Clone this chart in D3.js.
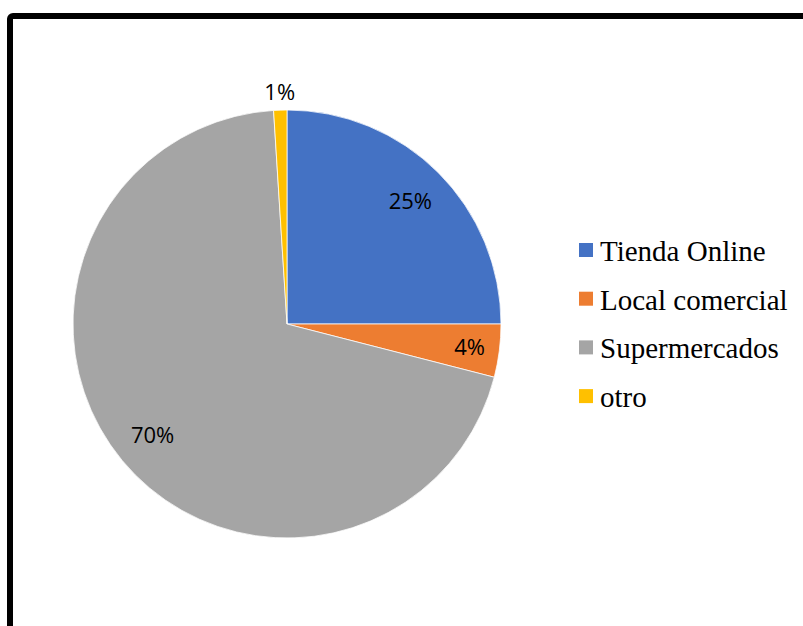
<!DOCTYPE html>
<html>
<head>
<meta charset="utf-8">
<script src="https://cdn.jsdelivr.net/npm/d3@7"></script>
<style>
  html, body { margin: 0; padding: 0; background: #ffffff; }
  svg { display: block; }
</style>
</head>
<body>
<svg id="chart" width="803" height="626"></svg>
<script>
// Purchase channel shares (percent)
const categories = ["Tienda Online", "Local comercial", "Supermercados", "otro"];
const values = [25, 4, 70, 1];
const valueLabels = ["25%", "4%", "70%", "1%"];
const colors = ["#4472C4", "#ED7D31", "#A5A5A5", "#FFC000"];

const svg = d3.select("#chart");
const W = 803, H = 626;

// Outer frame (continues past the right and bottom edges)
svg.append("rect")
  .attr("x", 10).attr("y", 16)
  .attr("width", W + 40).attr("height", H + 40)
  .attr("rx", 3)
  .attr("fill", "none")
  .attr("stroke", "#000")
  .attr("stroke-width", 6);

const cx = 287, cy = 324, r = 214;

const pie = d3.pie().sort(null).value(d => d.value);
const data = categories.map((c, i) => ({ name: c, value: values[i], label: valueLabels[i], color: colors[i] }));
const arcs = pie(data);

const arc = d3.arc().innerRadius(0).outerRadius(r);

const g = svg.append("g").attr("transform", `translate(${cx},${cy})`);

g.selectAll("path.slice")
  .data(arcs)
  .join("path")
  .attr("class", "slice")
  .attr("d", arc)
  .attr("fill", d => d.data.color)
  .attr("stroke", "#ffffff")
  .attr("stroke-width", 0.75);

// Data labels: wide slices inside, narrow ones pushed outward, tiny ones outside
function labelRadius(v) {
  if (v < 2) return r + 18;
  if (v < 10) return r * 0.86;
  return r * 0.815;
}
g.selectAll("text.val")
  .data(arcs)
  .join("text")
  .attr("class", "val")
  .attr("x", d => {
    const a = (d.startAngle + d.endAngle) / 2;
    return Math.sin(a) * labelRadius(d.data.value);
  })
  .attr("y", d => {
    const a = (d.startAngle + d.endAngle) / 2;
    return -Math.cos(a) * labelRadius(d.data.value);
  })
  .attr("text-anchor", "middle")
  .attr("dy", "0.36em")
  .attr("font-family", "'Open Sans', 'Liberation Sans', sans-serif")
  .attr("font-size", 22)
  .attr("fill", "#000")
  .text(d => d.data.label);

// Legend
const legend = svg.append("g").attr("transform", "translate(579,250)");
const rowStep = 48.7;
const rows = legend.selectAll("g.row")
  .data(data)
  .join("g")
  .attr("class", "row")
  .attr("transform", (d, i) => `translate(0,${i * rowStep})`);

rows.append("rect")
  .attr("x", 0).attr("y", -7)
  .attr("width", 14).attr("height", 14)
  .attr("fill", d => d.color);

rows.append("text")
  .attr("x", 21).attr("y", 11)
  .attr("font-family", "'Liberation Serif', 'Times New Roman', serif")
  .attr("font-size", 29)
  .attr("fill", "#000")
  .text(d => d.name);
</script>
</body>
</html>
